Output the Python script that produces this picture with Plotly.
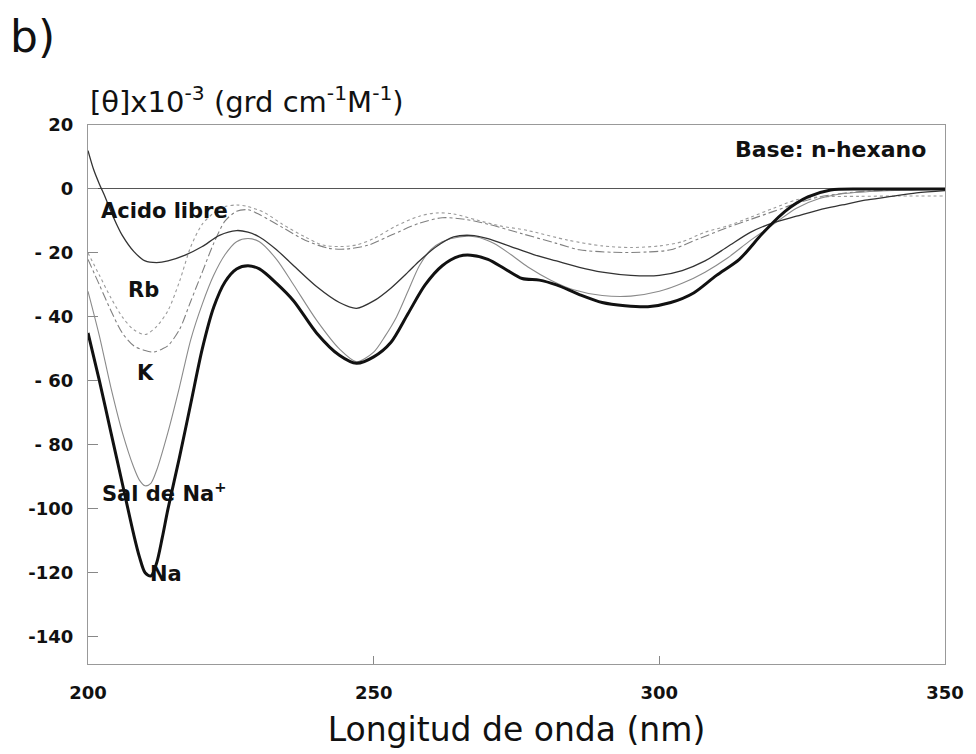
import plotly.graph_objects as go

# Wavelength (nm) and ellipticity values [θ]x10^-3 for each curve
na_x = [200, 202, 204, 206, 208, 209, 210, 211, 212, 213, 214, 216, 218, 220, 222, 224, 226, 228, 230, 233, 236, 240, 244, 247, 250, 253, 256, 259, 262, 265, 267, 270, 273, 276, 279, 282, 286, 290, 294, 298, 302, 306, 310, 314, 318, 322, 326, 330, 335, 340, 345, 350]
na_y = [-45, -60, -76, -92, -108, -115, -120, -121, -117, -109, -100, -84, -67, -50, -37, -29, -25, -24, -25, -29.5, -35, -45, -52, -54.5, -52.5, -48, -39, -30, -24, -21, -20.7, -22, -25, -28, -28.5, -30, -33, -35.5, -36.5, -36.8, -35.5, -32.5, -27, -22, -14, -7, -2.5, -0.3, 0, 0, 0, 0]

sal_x = [200, 202, 204, 206, 208, 209, 210, 211, 212, 214, 216, 218, 220, 222, 224, 226, 228, 230, 233, 236, 240, 244, 247, 250, 252, 254, 256, 258, 260, 262, 265, 268, 271, 274, 277, 281, 285, 290, 295, 300, 304, 308, 312, 316, 320, 324, 328, 332, 338, 345, 350]
sal_y = [-32, -46, -62, -76, -87, -91, -92.8, -92, -88, -76, -62, -47, -36, -27, -20.5, -16.5, -15.5, -16.5, -22, -30, -41, -50, -54, -51, -46, -40, -32, -24, -19, -16.5, -15, -15, -17, -20.5, -24.4, -28.5, -31.5, -33.3, -33.5, -32, -29.5, -26, -21.5, -16, -11, -6, -3, -1.5, -0.7, -0.3, 0]

acid_x = [200, 201, 202, 203, 204, 205, 206, 208, 210, 212, 214, 217, 220, 223, 226, 228, 230, 233, 236, 240, 244, 247, 250, 253, 256, 258, 261, 264, 267, 270, 274, 278, 282, 286, 290, 295, 300, 304, 308, 312, 316, 320, 324, 328, 332, 336, 340, 345, 350]
acid_y = [12, 6, 1.5, -2.5, -7, -11, -14.5, -19.5, -22.5, -23, -22.5, -20.7, -18, -14.5, -13, -13.5, -15, -19, -24, -30.5, -35.5, -37.3, -35, -31, -26, -22.5, -18, -15, -14.5, -15.5, -18, -20.5, -22.5, -24.5, -26, -27, -27, -25.5, -22.5, -18, -13.5, -10.5, -8.5, -6.5, -5, -3.5, -2.5, -1.2, -0.5]

rb_x = [200, 202, 204, 206, 208, 210, 212, 214, 216, 218, 220, 222, 224, 226, 228, 231, 234, 238, 241, 244, 247, 250, 254, 258, 261, 264, 268, 272, 277, 284, 290, 295, 300, 304, 308, 312, 316, 320, 324, 328, 335, 342, 350]
rb_y = [-20, -27, -34, -40, -44, -45.5, -43, -38, -29, -18, -11, -7.5, -5.5, -5, -5.5, -7.5, -11, -15, -17.5, -18, -17.5, -15.5, -11.5, -8.5, -7.5, -7.8, -9.7, -11.5, -13, -16, -17.8, -18.3, -17.8, -16.5, -13.5, -11.5, -8.8, -6, -3.4, -2.5, -2.3, -2.2, -2.2]

k_x = [200, 202, 204, 206, 208, 210, 211.5, 213, 214, 216, 218, 220, 222, 224, 226, 228, 230, 234, 238, 242, 245, 249, 253, 258, 262, 266, 270, 276, 282, 286, 292, 298, 302, 307, 312, 316, 320, 324, 328, 334, 340, 350]
k_y = [-22, -30, -38, -45, -49, -50.5, -51, -50, -49, -44, -35, -26, -17, -10, -7, -6.5, -8, -12, -16, -18.5, -18.8, -17.6, -14.5, -10.7, -9, -9.5, -11, -14, -17, -19, -19.8, -19.7, -19, -15.5, -12, -9.5, -7, -4.5, -2.5, -1, -0.4, 0]

y_ticks = [20, 0, -20, -40, -60, -80, -100, -120, -140]
y_tick_text = ["20", "0", "- 20", "- 40", "- 60", "- 80", "-100", "-120", "-140"]
x_ticks = [200, 250, 300, 350]

# Curve labels (text, x, y)
label_text = ["Acido libre", "Rb", "K", "Sal de Na<sup>+</sup>", "Na"]
label_x = [213.4, 209.8, 210.0, 213.3, 213.6]
label_y = [-6.9, -31.7, -57.4, -94.7, -120.4]

FONT = "DejaVu Sans, Liberation Sans, sans-serif"

fig = go.Figure()
fig.add_trace(go.Scatter(x=k_x, y=k_y, mode="lines", name="K",
                         line=dict(color="#808080", width=1.1, dash="dashdot", shape="spline", smoothing=0.8)))
fig.add_trace(go.Scatter(x=rb_x, y=rb_y, mode="lines", name="Rb",
                         line=dict(color="#9a9a9a", width=1.1, dash="dot", shape="spline", smoothing=0.8)))
fig.add_trace(go.Scatter(x=sal_x, y=sal_y, mode="lines", name="Sal de Na+",
                         line=dict(color="#8a8a8a", width=1.1, shape="spline", smoothing=0.8)))
fig.add_trace(go.Scatter(x=acid_x, y=acid_y, mode="lines", name="Acido libre",
                         line=dict(color="#333333", width=1.3, shape="spline", smoothing=0.8)))
fig.add_trace(go.Scatter(x=na_x, y=na_y, mode="lines", name="Na",
                         line=dict(color="#111111", width=3, shape="spline", smoothing=0.8)))

for t, lx, ly in zip(label_text, label_x, label_y):
    fig.add_annotation(x=lx, y=ly, text=t, showarrow=False,
                       font=dict(family=FONT, size=21, color="#111111", weight="bold"))

fig.add_annotation(x=347, y=12.2, text="Base: n-hexano", showarrow=False, xanchor="right",
                   font=dict(family=FONT, size=22, color="#111111", weight="bold"))

fig.add_annotation(xref="paper", yref="paper", x=0, y=1, xanchor="left", yanchor="bottom",
                   yshift=4, text="[θ]x10<sup>-3</sup> (grd cm<sup>-1</sup>M<sup>-1</sup>)",
                   showarrow=False, font=dict(family=FONT, size=29, color="#111111"))

fig.add_annotation(xref="paper", yref="paper", x=0, y=1, xanchor="left", yanchor="top",
                   xshift=-80, yshift=116, text="b)", showarrow=False,
                   font=dict(family=FONT, size=44, color="#111111"))

fig.update_layout(
    width=976, height=754,
    margin=dict(l=88, r=29, t=125, b=90),
    paper_bgcolor="white", plot_bgcolor="white",
    showlegend=False,
    font=dict(family=FONT, color="#111111"),
    xaxis=dict(range=[200, 350], tickvals=x_ticks, ticks="inside", ticklen=8,
               tickcolor="#888888", showgrid=False, zeroline=False,
               showline=True, mirror=True, linecolor="#999999", linewidth=1,
               tickfont=dict(size=18, family=FONT, weight="bold"), ticklabelstandoff=12,
               title=dict(text="Longitud de onda (nm)", font=dict(size=33, family=FONT), standoff=16)),
    yaxis=dict(range=[-148.5, 20], tickvals=y_ticks, ticktext=y_tick_text, ticks="inside", ticklen=10,
               tickcolor="#888888", showgrid=False,
               zeroline=True, zerolinecolor="#555555", zerolinewidth=1,
               showline=True, mirror=True, linecolor="#999999", linewidth=1,
               tickfont=dict(size=18, family=FONT, weight="bold"), ticklabelstandoff=10),
)

fig.write_html("out.html")
